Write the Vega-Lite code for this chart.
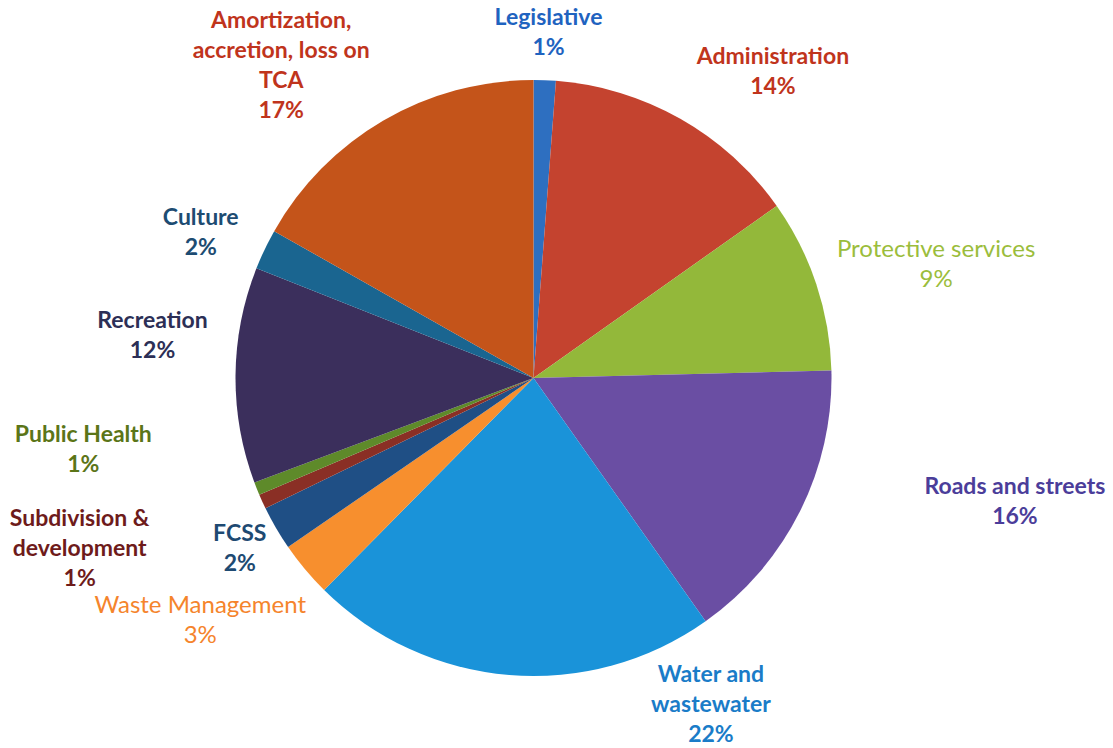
{
  "$schema": "https://vega.github.io/schema/vega-lite/v6.json",
  "width": 1067,
  "height": 740,
  "autosize": {"type": "none"},
  "padding": {"left": 0, "right": 46, "top": 8, "bottom": 0},
  "background": "white",
  "view": {"stroke": null},
  "config": {"text": {"font": "Lato", "fontSize": 23, "fontWeight": "bold", "lineBreak": "\n", "lineHeight": 30}},
  "data": {
    "values": [
      {"order": 1, "category": "Legislative", "value": 1.2, "label": "Legislative\n1%"},
      {"order": 2, "category": "Administration", "value": 14.0, "label": "Administration\n14%"},
      {"order": 3, "category": "Protective services", "value": 9.4, "label": "Protective services\n9%"},
      {"order": 4, "category": "Roads and streets", "value": 15.6, "label": "Roads and streets\n16%"},
      {"order": 5, "category": "Water and wastewater", "value": 22.2, "label": "Water and\nwastewater\n22%"},
      {"order": 6, "category": "Waste Management", "value": 3.0, "label": "Waste Management\n3%"},
      {"order": 7, "category": "FCSS", "value": 2.4, "label": "FCSS\n2%"},
      {"order": 8, "category": "Subdivision & development", "value": 0.8, "label": "Subdivision &\ndevelopment\n1%"},
      {"order": 9, "category": "Public Health", "value": 0.7, "label": "Public Health\n1%"},
      {"order": 10, "category": "Recreation", "value": 11.7, "label": "Recreation\n12%"},
      {"order": 11, "category": "Culture", "value": 2.2, "label": "Culture\n2%"},
      {"order": 12, "category": "Amortization, accretion, loss on TCA", "value": 16.8, "label": "Amortization,\naccretion, loss on\nTCA\n17%"}
    ]
  },
  "encoding": {
    "theta": {"field": "value", "type": "quantitative", "stack": true},
    "order": {"field": "order", "type": "quantitative"}
  },
  "layer": [
    {
      "mark": {"type": "arc", "outerRadius": 298},
      "encoding": {
        "color": {
          "field": "category",
          "type": "nominal",
          "legend": null,
          "scale": {
            "domain": ["Legislative", "Administration", "Protective services", "Roads and streets", "Water and wastewater", "Waste Management", "FCSS", "Subdivision & development", "Public Health", "Recreation", "Culture", "Amortization, accretion, loss on TCA"],
            "range": ["#2e6fc0", "#c4432f", "#93b83a", "#6a4ea3", "#1a93d9", "#f78f2e", "#1f4f85", "#8a2f25", "#5e8a2a", "#3b2f5c", "#1a6590", "#c4541a"]
          }
        }
      }
    },
    {"mark": {"type": "text", "radius": 345, "dx": 2, "dy": -15, "color": "#1f63c0"},
     "encoding": {"text": {"condition": {"test": "datum.category === 'Legislative'", "field": "label"}, "value": ""}}},
    {"mark": {"type": "text", "radius": 350, "dx": 67, "dy": -16, "color": "#c0341c"},
     "encoding": {"text": {"condition": {"test": "datum.category === 'Administration'", "field": "label"}, "value": ""}}},
    {"mark": {"type": "text", "radius": 420, "dx": 4, "dy": 4, "color": "#9bbd3c", "fontWeight": "normal", "fontSize": 24},
     "encoding": {"text": {"condition": {"test": "datum.category === 'Protective services'", "field": "label"}, "value": ""}}},
    {"mark": {"type": "text", "radius": 420, "dx": 106, "dy": -79, "color": "#4b3d9a"},
     "encoding": {"text": {"condition": {"test": "datum.category === 'Roads and streets'", "field": "label"}, "value": ""}}},
    {"mark": {"type": "text", "radius": 350, "dx": 206, "dy": -52, "color": "#1a7cc8"},
     "encoding": {"text": {"condition": {"test": "datum.category === 'Water and wastewater'", "field": "label"}, "value": ""}}},
    {"mark": {"type": "text", "radius": 410, "dx": -19, "dy": -35, "color": "#f5842c", "fontWeight": "normal", "fontSize": 24},
     "encoding": {"text": {"condition": {"test": "datum.category === 'Waste Management'", "field": "label"}, "value": ""}}},
    {"mark": {"type": "text", "radius": 340, "dy": -15, "color": "#1e4a72"},
     "encoding": {"text": {"condition": {"test": "datum.category === 'FCSS'", "field": "label"}, "value": ""}}},
    {"mark": {"type": "text", "radius": 480, "dx": -17, "dy": -58, "color": "#6e1b1b"},
     "encoding": {"text": {"condition": {"test": "datum.category === 'Subdivision & development'", "field": "label"}, "value": ""}}},
    {"mark": {"type": "text", "radius": 460, "dx": -23, "dy": -114, "color": "#5b7518"},
     "encoding": {"text": {"condition": {"test": "datum.category === 'Public Health'", "field": "label"}, "value": ""}}},
    {"mark": {"type": "text", "radius": 385, "dx": 4, "dy": -53, "color": "#2c2f56"},
     "encoding": {"text": {"condition": {"test": "datum.category === 'Recreation'", "field": "label"}, "value": ""}}},
    {"mark": {"type": "text", "radius": 360, "dx": -8, "dy": -5, "color": "#1d4c72"},
     "encoding": {"text": {"condition": {"test": "datum.category === 'Culture'", "field": "label"}, "value": ""}}},
    {"mark": {"type": "text", "radius": 370, "dx": -66, "dy": -37, "color": "#c0341c"},
     "encoding": {"text": {"condition": {"test": "datum.category === 'Amortization, accretion, loss on TCA'", "field": "label"}, "value": ""}}}
  ]
}
